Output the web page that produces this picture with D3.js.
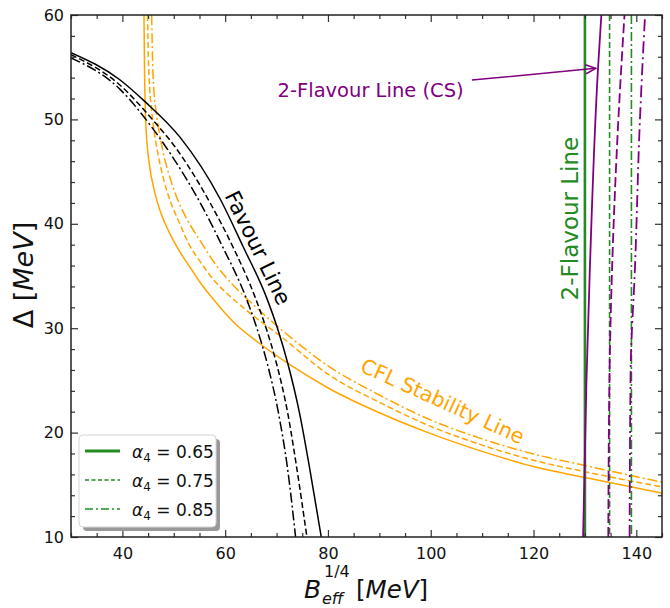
<!DOCTYPE html>
<html>
<head>
<meta charset="utf-8">
<script src="https://cdn.jsdelivr.net/npm/d3@7"></script>
<style>
  body { margin: 0; background: #fff; }
  text { font-family: "DejaVu Sans", sans-serif; }
</style>
</head>
<body>
<div id="chart"></div>
<script>
// data: [B_eff^(1/4), Delta] in MeV
var alphaLabels = ["0.65", "0.75", "0.85"];

var favourSolid = [[30,56.4],[39.5,53.8],[44.4,51.7],[51.2,48.3],[59,42.4],[63.5,37.8],[68,33],[70.3,29.8],[72.2,26.6],[74.5,21.8],[76.4,16.7],[78.7,10]];
var favourDashed = [[30,56.2],[39.5,53.3],[46,49.9],[50.2,47.4],[57.3,41.8],[61.5,37.8],[65.8,33],[68.1,29.8],[70,26.6],[72.2,21.8],[73.9,16.7],[75.9,10]];
var favourDashdot = [[30,55.9],[39.5,52.9],[45.5,49.4],[49.5,46.6],[55.7,41.5],[59.5,37.8],[64,33],[66.3,29.8],[68.2,26.6],[70.4,21.8],[72.1,16.7],[73.7,10]];

var cflSolid = [[44.2,60],[44.3,55],[44.45,51],[44.75,48],[45.3,45.5],[46.2,43.2],[47.3,41.3],[49,39.3],[51.2,37.3],[53.5,35.6],[55.1,34.4],[57.65,32.8],[62,30.4],[66,28.8],[72.3,26.6],[80.3,24.2],[90,21.9],[100,19.9],[110,18.2],[120,16.75],[130,15.7],[145,14.2]];
var cflDashed = [[44.9,60],[45.05,56],[45.3,53],[45.65,51],[46.2,48.8],[47,46.5],[48,44.3],[49.3,42.2],[51,40.2],[53,38],[55.1,36.4],[58,34.5],[62,32.6],[66,31],[70.6,29.3],[80.3,25.5],[90,22.9],[100,20.6],[110,18.8],[120,17.35],[130,16.25],[145,14.8]];
var cflDashdot = [[45.7,60],[45.85,56],[46.1,53],[46.5,51],[47.1,49],[48,46.7],[49.2,44.5],[50.6,42.5],[52.5,40.5],[55.1,38.4],[58,36.2],[62,33.9],[66,32],[70.6,30],[80.3,26.3],[90,23.6],[100,21.2],[110,19.4],[120,17.95],[130,16.85],[145,15.25]];

var twoFlavourX = [130.0, 134.8, 139.05];

var csSolid = [[129.65,10],[129.9,15.7],[130.3,25],[130.95,35.5],[132.55,54.9],[133.2,60]];
var csDashed = [[134.55,10],[134.8,26],[135.3,35.9],[136.5,49.9],[137.7,60]];
var csDashdot = [[138.7,10],[138.9,26],[139.75,35.9],[140.7,49.9],[141.7,60]];

var xMajor = [40, 60, 80, 100, 120, 140];
var yMajor = [10, 20, 30, 40, 50, 60];

var svgWidth = 670;
var svgHeight = 608;
var margin = { top: 15, right: 8, bottom: 71, left: 71 };
var width = svgWidth - margin.left - margin.right;
var height = svgHeight - margin.top - margin.bottom;

var svg = d3.select("#chart").append("svg")
  .attr("width", svgWidth)
  .attr("height", svgHeight);

var chartGroup = svg.append("g")
  .attr("transform", `translate(${margin.left}, ${margin.top})`);

var x = d3.scaleLinear().domain([30, 145]).range([0, width]);
var y = d3.scaleLinear().domain([10, 60]).range([height, 0]);

svg.append("defs").append("clipPath").attr("id", "plotClip")
  .append("rect").attr("width", width).attr("height", height);

var marker = svg.select("defs").append("marker")
  .attr("id", "arrowHead")
  .attr("markerUnits", "userSpaceOnUse")
  .attr("viewBox", "0 0 12 12")
  .attr("refX", 11).attr("refY", 6)
  .attr("markerWidth", 12).attr("markerHeight", 12)
  .attr("orient", "auto");
marker.append("path").attr("d", "M1,1.5 L11,6 L1,10.5")
  .attr("fill", "none").attr("stroke", "purple").attr("stroke-width", 1.5);

var lineX = d3.line()
  .x(d => x(d[0]))
  .y(d => y(d[1]))
  .curve(d3.curveMonotoneX);

var lineY = d3.line()
  .x(d => x(d[0]))
  .y(d => y(d[1]))
  .curve(d3.curveMonotoneY);

var plot = chartGroup.append("g").attr("clip-path", "url(#plotClip)");

var curves = [
  { pts: cflSolid, color: "orange", dash: null, w: 1.5 },
  { pts: cflDashed, color: "orange", dash: "6,3", w: 1.5 },
  { pts: cflDashdot, color: "orange", dash: "10,3,2,3", w: 1.5 },
  { pts: favourSolid, color: "black", dash: null, w: 1.5 },
  { pts: favourDashed, color: "black", dash: "6,3", w: 1.5 },
  { pts: favourDashdot, color: "black", dash: "10,3,2,3", w: 1.5 }
];

plot.selectAll("path.curve")
  .data(curves)
  .enter()
  .append("path")
  .attr("class", "curve")
  .attr("d", d => lineX(d.pts))
  .attr("fill", "none")
  .attr("stroke", d => d.color)
  .attr("stroke-width", d => d.w)
  .attr("stroke-dasharray", d => d.dash);

// green 2-flavour lines
var greenStyles = [
  { dash: null, w: 2.6 },
  { dash: "6,3", w: 1.6 },
  { dash: "9,3,2,3", w: 1.6 }
];
plot.selectAll("line.green")
  .data(twoFlavourX)
  .enter()
  .append("line")
  .attr("class", "green")
  .attr("x1", d => x(d)).attr("x2", d => x(d))
  .attr("y1", 0).attr("y2", height)
  .attr("stroke", "forestgreen")
  .attr("stroke-width", (d, i) => greenStyles[i].w)
  .attr("stroke-dasharray", (d, i) => greenStyles[i].dash);

var purpleCurves = [
  { pts: csSolid, dash: null, w: 1.8 },
  { pts: csDashed, dash: "10,4", w: 1.8 },
  { pts: csDashdot, dash: "12,4,2,4", w: 1.8 }
];
plot.selectAll("path.cs")
  .data(purpleCurves)
  .enter()
  .append("path")
  .attr("class", "cs")
  .attr("d", d => lineY(d.pts))
  .attr("fill", "none")
  .attr("stroke", "purple")
  .attr("stroke-width", d => d.w)
  .attr("stroke-dasharray", d => d.dash);

// axes, ticks pointing inwards on all four sides
var xMinor = d3.range(30, 146, 5).filter(v => xMajor.indexOf(v) < 0);
var yMinor = d3.range(10, 61, 2).filter(v => yMajor.indexOf(v) < 0);

function styleAxis(g) {
  g.select(".domain").remove();
  g.selectAll("line").attr("stroke", "#333").attr("stroke-width", 1.2);
  g.selectAll("text").attr("fill", "#111").style("font-size", "16px")
    .style("font-family", "DejaVu Sans, sans-serif");
}

chartGroup.append("g").attr("transform", `translate(0, ${height})`)
  .call(d3.axisBottom(x).tickValues(xMajor).tickSize(-7).tickPadding(11).tickFormat(d3.format("d")))
  .call(styleAxis);
chartGroup.append("g").attr("transform", `translate(0, ${height})`)
  .call(d3.axisBottom(x).tickValues(xMinor).tickSize(-4).tickFormat(""))
  .call(styleAxis);
chartGroup.append("g")
  .call(d3.axisTop(x).tickValues(xMajor).tickSize(-7).tickFormat(""))
  .call(styleAxis);
chartGroup.append("g")
  .call(d3.axisTop(x).tickValues(xMinor).tickSize(-4).tickFormat(""))
  .call(styleAxis);
chartGroup.append("g")
  .call(d3.axisLeft(y).tickValues(yMajor).tickSize(-7).tickPadding(7).tickFormat(d3.format("d")))
  .call(styleAxis);
chartGroup.append("g")
  .call(d3.axisLeft(y).tickValues(yMinor).tickSize(-4).tickFormat(""))
  .call(styleAxis);
chartGroup.append("g").attr("transform", `translate(${width}, 0)`)
  .call(d3.axisRight(y).tickValues(yMajor).tickSize(-7).tickFormat(""))
  .call(styleAxis);
chartGroup.append("g").attr("transform", `translate(${width}, 0)`)
  .call(d3.axisRight(y).tickValues(yMinor).tickSize(-4).tickFormat(""))
  .call(styleAxis);

chartGroup.append("rect")
  .attr("width", width).attr("height", height)
  .attr("fill", "none").attr("stroke", "#222").attr("stroke-width", 1.5);

// curve labels
function rotLabel(txt, dx, dy, angle, color, size) {
  chartGroup.append("text")
    .attr("transform", `translate(${x(dx)}, ${y(dy)}) rotate(${angle})`)
    .attr("text-anchor", "middle")
    .attr("dominant-baseline", "central")
    .style("font-size", size + "px")
    .attr("fill", color)
    .text(txt);
}
rotLabel("Favour Line", 66.4, 37.7, 64, "black", 21.5);
rotLabel("CFL Stability Line", 102.3, 23.0, 24.5, "orange", 20.5);
rotLabel("2-Flavour Line", 127.15, 40.5, -90, "forestgreen", 23);
rotLabel("2-Flavour Line (CS)", 88.3, 52.8, 0, "purple", 19.5);

chartGroup.append("line")
  .attr("x1", x(108.0)).attr("y1", y(53.77))
  .attr("x2", x(132.1)).attr("y2", y(54.89))
  .attr("stroke", "purple").attr("stroke-width", 1.5)
  .attr("marker-end", "url(#arrowHead)");

// axis labels
var yLab = svg.append("text")
  .attr("transform", "translate(33, 275) rotate(-90)")
  .attr("text-anchor", "middle")
  .style("font-size", "27px")
  .attr("fill", "#111");
yLab.append("tspan").text("Δ [");
yLab.append("tspan").style("font-style", "italic").text("MeV");
yLab.append("tspan").text("]");

svg.append("text").attr("x", 304).attr("y", 598)
  .style("font-size", "25px").style("font-style", "italic").attr("fill", "#111").text("B");
svg.append("text").attr("x", 324).attr("y", 577)
  .style("font-size", "16px").attr("fill", "#111").text("1/4");
svg.append("text").attr("x", 322).attr("y", 604)
  .style("font-size", "16px").style("font-style", "italic").attr("fill", "#111").text("eff");
var xLab = svg.append("text").attr("x", 356).attr("y", 598)
  .style("font-size", "24.5px").attr("fill", "#111");
xLab.append("tspan").text("[");
xLab.append("tspan").style("font-style", "italic").text("MeV");
xLab.append("tspan").text("]");

// legend
var legend = svg.append("g").attr("transform", "translate(79, 435)");
legend.append("rect").attr("x", 4).attr("y", 4).attr("width", 137).attr("height", 92)
  .attr("rx", 4).attr("fill", "#999");
legend.append("rect").attr("width", 137).attr("height", 92)
  .attr("rx", 4).attr("fill", "white").attr("stroke", "#d5d5d5").attr("stroke-width", 1);

var legendStyles = [
  { dash: null, w: 3 },
  { dash: "4,2.5", w: 1.6 },
  { dash: "8,3,2,3", w: 1.6 }
];
var rows = legend.selectAll("g.row")
  .data(alphaLabels)
  .enter()
  .append("g")
  .attr("class", "row")
  .attr("transform", (d, i) => `translate(0, ${16 + i * 29})`);
rows.append("line")
  .attr("x1", 6).attr("x2", 41).attr("y1", 0).attr("y2", 0)
  .attr("stroke", "forestgreen")
  .attr("stroke-width", (d, i) => legendStyles[i].w)
  .attr("stroke-dasharray", (d, i) => legendStyles[i].dash);
var lt = rows.append("text")
  .attr("x", 53).attr("y", 7)
  .style("font-size", "17px")
  .attr("fill", "#111");
lt.append("tspan").style("font-style", "italic").text("α");
lt.append("tspan").style("font-size", "12px").attr("dy", 4).text("4");
lt.append("tspan").attr("dy", -4).text(d => " = " + d);
</script>
</body>
</html>
